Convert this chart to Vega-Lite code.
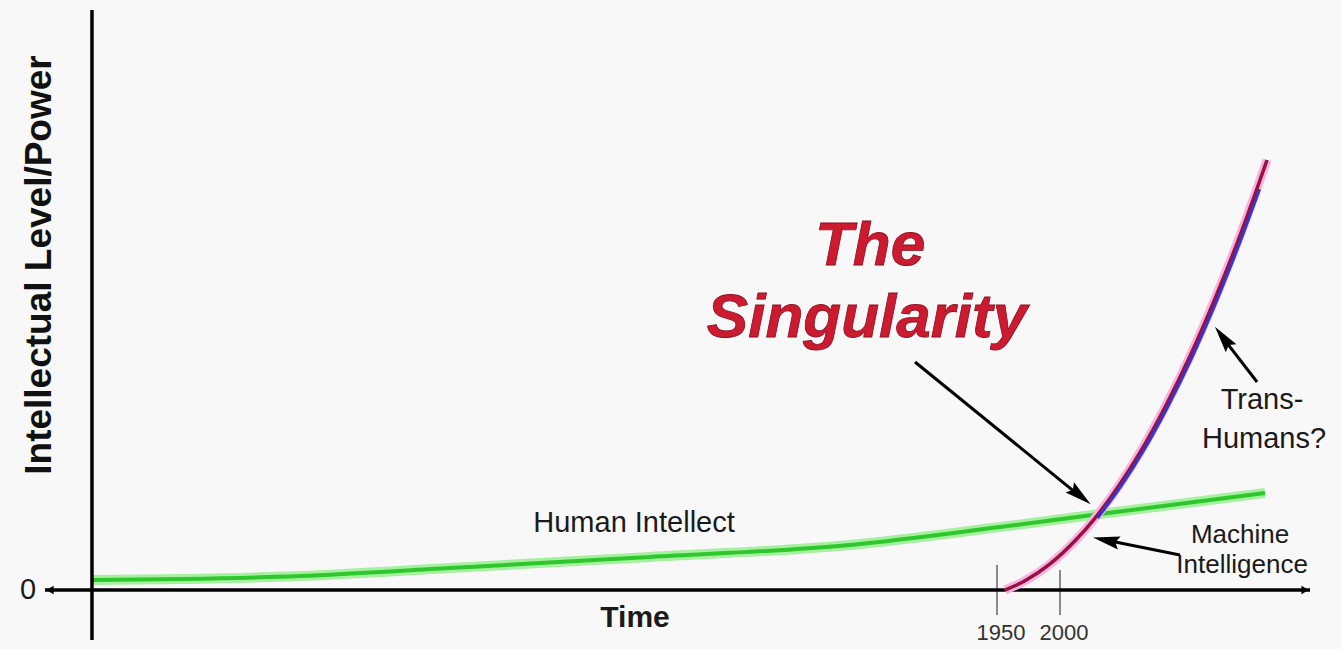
{
  "$schema": "https://vega.github.io/schema/vega-lite/v6.json",
  "width": 1341,
  "height": 649,
  "padding": 0,
  "autosize": {"type": "fit", "contains": "padding"},
  "background": "#f8f8f8",
  "config": {"view": {"stroke": null}},
  "datasets": {
    "human": [
      {"t": 1231.7, "v": 1.72},
      {"t": 1396.8, "v": 2.41},
      {"t": 1515.8, "v": 3.79},
      {"t": 1674.6, "v": 5.69},
      {"t": 1833.3, "v": 7.76},
      {"t": 1952.4, "v": 10.86},
      {"t": 2031.8, "v": 13.1},
      {"t": 2162.7, "v": 16.72}
    ],
    "machine": [
      {"t": 1956.3, "v": 0},
      {"t": 1972.2, "v": 1.59},
      {"t": 1992.1, "v": 4.5},
      {"t": 2011.9, "v": 8.48},
      {"t": 2027.8, "v": 12.41},
      {"t": 2047.6, "v": 18.29},
      {"t": 2063.5, "v": 23.74},
      {"t": 2083.3, "v": 31.52},
      {"t": 2103.2, "v": 40.34},
      {"t": 2123.0, "v": 50.22},
      {"t": 2142.9, "v": 61.16},
      {"t": 2164.3, "v": 74.14}
    ],
    "trans": [
      {"t": 2027.8, "v": 12.41},
      {"t": 2047.6, "v": 18.29},
      {"t": 2063.5, "v": 23.74},
      {"t": 2083.3, "v": 31.52},
      {"t": 2103.2, "v": 40.34},
      {"t": 2123.0, "v": 50.22},
      {"t": 2142.9, "v": 61.16},
      {"t": 2156.4, "v": 69.1}
    ],
    "axes": [
      {"t": 1231.7, "v": -8.62, "t2": 1231.7, "v2": 100.0},
      {"t": 1194.4, "v": 0, "t2": 2198.4, "v2": 0}
    ],
    "ticks": [
      {"t": 1950, "v": 4.31, "t2": 1950, "v2": -4.31},
      {"t": 2000, "v": 3.45, "t2": 2000, "v2": -4.31}
    ],
    "axisheads": [
      {"t": 1198.4, "v": 0, "a": 270},
      {"t": 2194.5, "v": 0, "a": 90}
    ],
    "arrows": [
      {"t": 1884.9, "v": 39.31, "t2": 2014.0, "v2": 16.5},
      {"t": 2095.2, "v": 6.03, "t2": 2039.0, "v2": 8.5},
      {"t": 2156.4, "v": 35.86, "t2": 2131.0, "v2": 43.0}
    ],
    "heads": [
      {"t": 2014.6, "v": 16.5, "a": 129},
      {"t": 2038.4, "v": 8.5, "a": 282},
      {"t": 2130.5, "v": 43.2, "a": 323}
    ],
    "labels": [
      {"t": 1662.7, "v": -6.38, "label": "Time", "kind": "bold"},
      {"t": 1180.9, "v": -1.5, "label": "0", "kind": "plain"},
      {"t": 1661.9, "v": 10.0, "label": "Human Intellect", "kind": "plain"},
      {"t": 2160.3, "v": 31.21, "label": "Trans-", "kind": "plain"},
      {"t": 2161.9, "v": 24.48, "label": "Humans?", "kind": "plain"}
    ],
    "small": [
      {"t": 2142.9, "v": 8.1, "label": "Machine"},
      {"t": 2144.5, "v": 2.93, "label": "Intelligence"}
    ],
    "years": [
      {"t": 1953.2, "v": -8.62, "label": "1950"},
      {"t": 2003.2, "v": -8.62, "label": "2000"}
    ],
    "title": [
      {"t": 1849.2, "v": 56.03, "label": "The"},
      {"t": 1846.8, "v": 43.62, "label": "Singularity"}
    ],
    "ylab": [
      {"t": 1190.4, "v": 56.03, "label": "Intellectual Level/Power"}
    ]
  },
  "encoding": {
    "x": {"field": "t", "type": "quantitative", "scale": {"domain": [1158.7, 2223.0], "nice": false, "zero": false}, "axis": null},
    "y": {"field": "v", "type": "quantitative", "scale": {"domain": [-10.17, 101.72], "nice": false, "zero": false}, "axis": null}
  },
  "layer": [
    {
      "data": {"name": "ticks"},
      "mark": {"type": "rule", "color": "#8a8a8a", "strokeWidth": 2},
      "encoding": {"x2": {"field": "t2"}, "y2": {"field": "v2"}}
    },
    {
      "data": {"name": "human"},
      "mark": {"type": "line", "color": "#a6f0a0", "strokeWidth": 10, "interpolate": "monotone", "strokeCap": "butt"},
      "encoding": {}
    },
    {
      "data": {"name": "human"},
      "mark": {"type": "line", "color": "#2ec82e", "strokeWidth": 4, "interpolate": "monotone", "strokeCap": "butt"},
      "encoding": {}
    },
    {
      "data": {"name": "axes"},
      "mark": {"type": "rule", "color": "#000000", "strokeWidth": 3.5},
      "encoding": {"x2": {"field": "t2"}, "y2": {"field": "v2"}}
    },
    {
      "data": {"name": "axisheads"},
      "mark": {"type": "point", "shape": "triangle-up", "filled": true, "color": "#000000", "size": 70, "opacity": 1},
      "encoding": {"angle": {"field": "a", "type": "quantitative", "scale": null}}
    },
    {
      "data": {"name": "machine"},
      "mark": {"type": "line", "color": "#f8b4e0", "strokeWidth": 9, "interpolate": "monotone"},
      "encoding": {}
    },
    {
      "data": {"name": "machine"},
      "mark": {"type": "line", "color": "#9a1040", "strokeWidth": 3.5, "interpolate": "monotone"},
      "encoding": {}
    },
    {
      "data": {"name": "trans"},
      "mark": {"type": "line", "color": "#3434d0", "strokeWidth": 3, "interpolate": "monotone", "xOffset": 2.5},
      "encoding": {}
    },
    {
      "data": {"name": "arrows"},
      "mark": {"type": "rule", "color": "#000000", "strokeWidth": 3},
      "encoding": {"x2": {"field": "t2"}, "y2": {"field": "v2"}}
    },
    {
      "data": {"name": "heads"},
      "mark": {"type": "point", "shape": "M0,-1L0.42,0.7L0,0.45L-0.42,0.7Z", "filled": true, "color": "#000000", "size": 1000, "opacity": 1},
      "encoding": {"angle": {"field": "a", "type": "quantitative", "scale": null}}
    },
    {
      "data": {"name": "labels"},
      "transform": [{"filter": "datum.kind == 'bold'"}],
      "mark": {"type": "text", "font": "Liberation Sans", "fontSize": 30, "fontWeight": "bold", "color": "#1a1a1a", "align": "center", "baseline": "alphabetic"},
      "encoding": {"text": {"field": "label"}}
    },
    {
      "data": {"name": "labels"},
      "transform": [{"filter": "datum.kind == 'plain'"}],
      "mark": {"type": "text", "font": "Liberation Sans", "fontSize": 29, "color": "#1a1a1a", "align": "center", "baseline": "alphabetic"},
      "encoding": {"text": {"field": "label"}}
    },
    {
      "data": {"name": "small"},
      "mark": {"type": "text", "font": "Liberation Sans", "fontSize": 26, "color": "#1a1a1a", "align": "center", "baseline": "alphabetic"},
      "encoding": {"text": {"field": "label"}}
    },
    {
      "data": {"name": "years"},
      "mark": {"type": "text", "font": "Liberation Sans", "fontSize": 22, "color": "#333333", "align": "center", "baseline": "alphabetic"},
      "encoding": {"text": {"field": "label"}}
    },
    {
      "data": {"name": "title"},
      "mark": {"type": "text", "font": "Liberation Sans", "fontSize": 62, "fontWeight": "bold", "fontStyle": "italic", "color": "#cc1a2e", "stroke": "#8a0f25", "strokeWidth": 0.8, "align": "center", "baseline": "alphabetic"},
      "encoding": {"text": {"field": "label"}}
    },
    {
      "data": {"name": "ylab"},
      "mark": {"type": "text", "font": "Liberation Sans", "fontSize": 37, "fontWeight": "bold", "color": "#111111", "align": "center", "baseline": "middle", "angle": 270},
      "encoding": {"text": {"field": "label"}}
    }
  ]
}
